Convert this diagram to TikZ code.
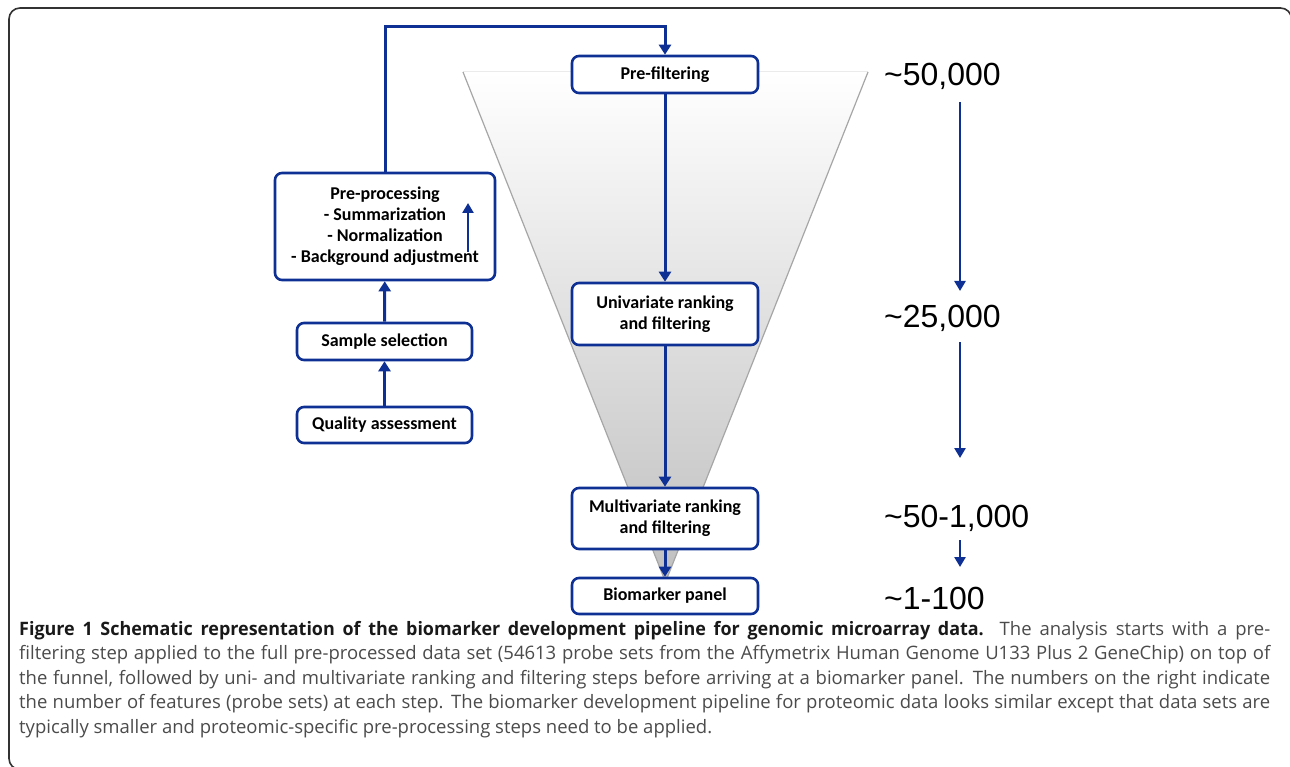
\documentclass[tikz,border=0pt]{standalone}
\usepackage{fontspec}
\setmainfont{Open Sans}
\newfontfamily\boxfont{Carlito}
\newfontfamily\numfont{Liberation Sans}
\newfontfamily\capbf{Open Sans}[FakeStretch=0.97]
\usetikzlibrary{arrows.meta}
\definecolor{bblue}{RGB}{14,48,148}
\definecolor{framec}{RGB}{50,50,50}
\definecolor{captxt}{RGB}{75,75,75}
\begin{document}
\begin{tikzpicture}[x=1pt,y=-1pt,
  box/.style={draw=bblue, line width=2.6pt, rounded corners=7pt, fill=white,
    font=\boxfont\bfseries\fontsize{18}{21}\selectfont, align=center, inner sep=0pt},
  arr/.style={draw=bblue, line width=3pt, -{Triangle[length=10pt,width=12pt]}},
  sarr/.style={draw=bblue, line width=2.6pt, -{Triangle[length=10pt,width=11pt]}},
  num/.style={font=\numfont\fontsize{32}{32}\selectfont, anchor=west, inner sep=0pt},
  capline/.style={anchor=base west, inner sep=0pt, text=captxt,
    font=\fontsize{18.5}{24}\selectfont},
]
\useasboundingbox (0,0) rectangle (1290,767);
% frame (only top and left edges fall inside the picture)
\draw[framec, line width=1.6pt, rounded corners=11pt] (24,769.5) -| (9,8) -| (1291.5,40);
% funnel
\coordinate (ft1) at (463,72);
\coordinate (ft2) at (868,72);
\coordinate (fa) at (665.5,582);
\shade[top color=white, middle color=black!3, bottom color=black!25] (ft1) -- (ft2) -- (fa) -- cycle;
\draw[black!8, line width=1pt] (ft1) -- (ft2);
\draw[black!35, line width=1.2pt] (ft1) -- (fa) -- (ft2);
% boxes
\node[box, minimum width=186pt, minimum height=37pt] (pf) at (665,74.5) {Pre-filtering};
\node[box, minimum width=186pt, minimum height=62pt] (uni) at (665,314) {Univariate ranking\\and filtering};
\node[box, minimum width=186pt, minimum height=61pt] (multi) at (665,518.5) {Multivariate ranking\\and filtering};
\node[box, minimum width=186pt, minimum height=36pt] (bio) at (665,596) {Biomarker panel};
\node[box, minimum width=220pt, minimum height=107pt] (pre) at (385,226.5) {Pre-processing\\- Summarization\\- Normalization\\- Background adjustment};
\node[box, minimum width=175pt, minimum height=37pt] (sample) at (384.5,341.5) {Sample selection};
\node[box, minimum width=175pt, minimum height=36pt] (qa) at (384.5,425) {Quality assessment};
% connectors
\coordinate (lp) at (665,27);
\draw[arr] (pre.north) |- (lp) -- (pf.north);
\draw[arr] (pf) -- (uni);
\draw[arr] (uni) -- (multi);
\draw[arr] (multi) -- (bio);
\draw[arr] (qa) -- (sample);
\draw[arr] (sample) -- (pre);
\coordinate (pa1) at (468,252);
\coordinate (pa2) at (468,203);
\draw[sarr] (pa1) -- (pa2);
% numbers
\node[num] (n1) at (884,76) {\textasciitilde50,000};
\node[num] (n2) at (884,318) {\textasciitilde25,000};
\node[num] (n3) at (884,518) {\textasciitilde50-1,000};
\node[num] (n4) at (884,598) {\textasciitilde1-100};
\coordinate (r1a) at (960,102);
\coordinate (r1b) at (960,291);
\coordinate (r2a) at (960,342);
\coordinate (r2b) at (960,458);
\coordinate (r3a) at (960,540);
\coordinate (r3b) at (960,567);
\draw[sarr] (r1a) -- (r1b);
\draw[sarr] (r2a) -- (r2b);
\draw[sarr] (r3a) -- (r3b);
% caption
\node[capline] (c1) at (19,635) {\makebox[1251pt][s]{{\capbf\bfseries\color{black!90}Figure 1 Schematic representation of the biomarker development pipeline for genomic microarray data.} The analysis starts with a pre-}};
\node[capline] (c2) at (19,659.5) {\makebox[1251pt][s]{filtering step applied to the full pre-processed data set (54613 probe sets from the Affymetrix Human Genome U133 Plus 2 GeneChip) on top of}};
\node[capline] (c3) at (19,684) {\makebox[1251pt][s]{the funnel, followed by uni- and multivariate ranking and filtering steps before arriving at a biomarker panel. The numbers on the right indicate}};
\node[capline] (c4) at (19,708.5) {\makebox[1251pt][s]{the number of features (probe sets) at each step. The biomarker development pipeline for proteomic data looks similar except that data sets are}};
\node[capline] (c5) at (19,733) {typically smaller and proteomic-specific pre-processing steps need to be applied.};
\end{tikzpicture}
\end{document}
